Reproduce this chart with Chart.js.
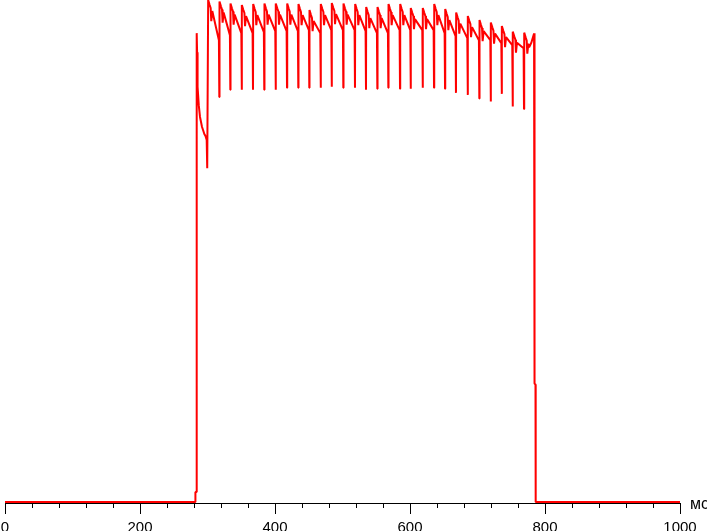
<!DOCTYPE html>
<html>
<head>
<meta charset="utf-8">
<script src="https://cdn.jsdelivr.net/npm/chart.js@4.4.1/dist/chart.umd.min.js"></script>
<style>
  html, body { margin:0; padding:0; background:#fff; }
</style>
</head>
<body>
<canvas id="chart" width="707" height="531"></canvas>
<script>
// Axis
const xTicks = [0, 200, 400, 600, 800, 1000];
const minorTicks = [0,40,80,120,160,200,240,280,320,360,400,440,480,520,560,600,640,680,720,760,800,840,880,920,960,1000];
const unitLabel = "мс";

// Switch-on part of the trace (ms, level)
const onsetTimes  = [0, 281.9, 282.1, 283.7, 284.0, 284.6, 284.9, 285.7, 287.1, 288.9, 290.4, 291.9, 293.4, 295.3, 297.0, 298.8, 299.6];
const onsetValues = [0, 0,     2.0,   2.0,   93.4,  89.6,  80.1,  82.7,  79.0,  76.7,  75.7,  74.7,  74.1,  73.3,  72.9,  72.1,  66.5];

// Ripple cycles: spike time, peak level, dip before the peak, level at end of cycle
const spikeTimes = [300.7, 317.5, 333.8, 350.7, 367.4, 384.1, 401.0, 417.8, 434.5, 450.8,
                    467.7, 484.0, 501.2, 518.5, 534.8, 551.6, 567.9, 585.2, 601.0, 618.8,
                    635.6, 651.9, 668.1, 685.5, 702.7, 719.6, 735.9, 752.1, 768.9];
const topLevels  = [100.0, 99.7, 99.3, 99.0, 99.2, 99.3, 99.3, 99.3, 99.2, 98.0,
                    99.2, 99.4, 99.3, 99.2, 98.6, 98.6, 99.2, 99.2, 98.4, 98.4,
                    99.2, 98.2, 97.5, 96.8, 96.0, 95.5, 94.8, 93.7, 93.5];
const dipLevels  = [null, 80.7, 82.1, 82.1, 82.1, 82.1, 82.1, 82.5, 82.5, 82.5,
                    82.5, 82.7, 82.5, 82.5, 82.1, 82.3, 82.5, 82.3, 82.3, 82.5,
                    82.5, 82.3, 81.5, 81.1, 80.4, 79.8, 81.3, 78.8, 78.3];
const endLevels  = [92.0, 93.0, 93.4, 93.4, 93.6, 93.8, 93.8, 93.8, 94.0, 93.4,
                    94.0, 94.0, 94.0, 93.8, 93.4, 93.4, 94.0, 94.0, 94.0, 94.0,
                    93.4, 92.8, 92.4, 92.0, 92.0, 91.4, 91.0, 90.4];
// shape just after each peak (ms after spike, drop below peak)
const shapeOffsets = [0.3, 2.5, 4.0, 4.9, 6.4];
const shapeDrops   = [0,   1.0, 1.6, 4.2, 2.2];

// Switch-off part
const offTimes  = [776.5, 779.5, 783.8, 784.4, 784.6, 785.9, 786.2, 1000];
const offValues = [90.6,  91.4,  93.3,  93.4,  23.6,  23.4,  0,     0];

// build trace
const points = [];
onsetTimes.forEach((t, i) => points.push({ x: t, y: onsetValues[i] }));
spikeTimes.forEach((s, k) => {
  if (k > 0) {
    points.push({ x: s - 0.6, y: endLevels[k - 1] });
    points.push({ x: s, y: dipLevels[k] });
  }
  shapeOffsets.forEach((o, j) => points.push({ x: s + o, y: topLevels[k] - shapeDrops[j] }));
});
offTimes.forEach((t, i) => points.push({ x: t, y: offValues[i] }));

const extras = {
  id: "extras",
  afterDraw(chart) {
    const { ctx, chartArea } = chart;
    const x = chart.scales.x;
    ctx.save();
    ctx.strokeStyle = "#000";
    ctx.lineWidth = 1;
    ctx.beginPath();
    minorTicks.forEach(v => {
      const px = Math.round(x.getPixelForValue(v)) + 0.5;
      ctx.moveTo(px, chartArea.bottom);
      ctx.lineTo(px, chartArea.bottom + 5);
    });
    ctx.stroke();
    ctx.fillStyle = "#000";
    ctx.font = '16px "Liberation Sans"';
    ctx.textBaseline = "alphabetic";
    ctx.fillText(unitLabel, x.right + 10, chartArea.bottom + 6);
    ctx.restore();
  }
};

new Chart(document.getElementById("chart"), {
  type: "line",
  data: {
    datasets: [{
      data: points,
      borderColor: "#ff0000",
      borderWidth: 2,
      borderJoinStyle: "bevel",
      pointRadius: 0,
      tension: 0,
      fill: false
    }]
  },
  options: {
    responsive: false,
    animation: false,
    layout: { padding: { left: 5, right: 27, top: 0, bottom: 0 } },
    plugins: { legend: { display: false }, tooltip: { enabled: false } },
    scales: {
      x: {
        type: "linear",
        min: 0, max: 1000,
        afterBuildTicks: s => { s.ticks = xTicks.map(v => ({ value: v })); },
        afterFit: s => { s.height = 28; s.paddingLeft = 0; s.paddingRight = 0; },
        grid: { drawOnChartArea: false, tickLength: 11, color: "#000", tickColor: "#000" },
        border: { color: "#000", width: 1 },
        ticks: {
          color: "#000",
          font: { family: "Liberation Sans", size: 15 },
          padding: 5,
          maxRotation: 0,
          autoSkip: false,
          callback: v => String(v)
        }
      },
      y: { display: false, min: -0.2, max: 100 }
    }
  },
  plugins: [extras]
});
</script>
</body>
</html>
